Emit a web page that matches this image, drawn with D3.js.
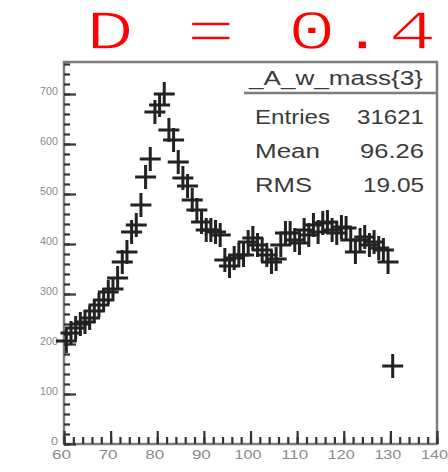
<!DOCTYPE html>
<html>
<head>
<meta charset="utf-8">
<script src="https://cdn.jsdelivr.net/npm/d3@7"></script>
<style>
  html, body { margin: 0; padding: 0; background: #fff; }
  svg { display: block; }
</style>
</head>
<body>
<svg id="chart" width="448" height="472"></svg>
<script>
// Histogram of the reconstructed W mass (1 GeV bins), drawn as "+" markers
const binCenters = [
  60.5, 61.5, 62.5, 63.5, 64.5, 65.5, 66.5, 67.5, 68.5, 69.5,
  70.5, 71.5, 72.5, 73.5, 74.5, 75.5, 76.5, 77.5, 78.5, 79.5,
  80.5, 81.5, 82.5, 83.5, 84.5, 85.5, 86.5, 87.5, 88.5, 89.5,
  90.5, 91.5, 92.5, 93.5, 94.5, 95.5, 96.5, 97.5, 98.5, 99.5,
  100.5, 101.5, 102.5, 103.5, 104.5, 105.5, 106.5, 107.5, 108.5, 109.5,
  110.5, 111.5, 112.5, 113.5, 114.5, 115.5, 116.5, 117.5, 118.5, 119.5,
  120.5, 121.5, 122.5, 123.5, 124.5, 125.5, 126.5, 127.5, 128.5, 129.5,
  130.5
];
const binCounts = [
  206, 222, 232, 240, 244, 252, 266, 278, 288, 304,
  310, 332, 364, 384, 424, 438, 478, 534, 570, 664,
  678, 700, 628, 608, 564, 532, 516, 488, 468, 444,
  428, 428, 424, 418, 368, 356, 372, 378, 378, 404,
  412, 398, 388, 378, 364, 370, 398, 422, 422, 408,
  402, 428, 418, 438, 424, 442, 444, 428, 422, 434,
  432, 408, 384, 408, 414, 398, 404, 392, 388, 364,
  156
];

const xMajorTicks = [60, 70, 80, 90, 100, 110, 120, 130, 140];
const xMinorTicks = d3.range(60, 141, 2);
const yMajorTicks = [0, 100, 200, 300, 400, 500, 600, 700];
const yMinorTicks = d3.range(0, 761, 20);

const titleText = "D = 0.4";
const statsTitle = "_A_w_mass{3}";
const statsLabels = ["Entries", "Mean", "RMS"];
const statsValues = ["31621", "96.26", "19.05"];

const svg = d3.select("#chart");

const frame = { left: 64, right: 437, top: 62, bottom: 444 };
const x = d3.scaleLinear().domain([60, 140]).range([frame.left, frame.right]);
const y = d3.scaleLinear().domain([0, 764]).range([frame.bottom, frame.top]);

// Big red title, strokes thinned with a white outline painted over the glyph edges
svg.append("text")
  .attr("transform", "translate(85.6,49) scale(1.45,1)")
  .attr("font-family", "'Liberation Mono', 'Courier New', monospace")
  .attr("font-size", 56)
  .attr("letter-spacing", 1.2)
  .attr("fill", "#ff0000")
  .attr("stroke", "#ffffff")
  .attr("stroke-width", 1.4)
  .text(titleText);

// Frame
svg.append("rect")
  .attr("x", frame.left).attr("y", frame.top)
  .attr("width", frame.right - frame.left)
  .attr("height", frame.bottom - frame.top)
  .attr("fill", "none")
  .attr("stroke", "#7d7d7d")
  .attr("stroke-width", 2.5);

// X axis: minor ticks, then major ticks with labels
const gxMinor = svg.append("g")
  .attr("transform", `translate(0,${frame.bottom})`)
  .call(d3.axisBottom(x).tickValues(xMinorTicks).tickSize(-7).tickFormat(""));
const gx = svg.append("g")
  .attr("transform", `translate(0,${frame.bottom})`)
  .call(d3.axisBottom(x).tickValues(xMajorTicks).tickSize(-13).tickPadding(6));

// Y axis
const gyMinor = svg.append("g")
  .attr("transform", `translate(${frame.left},0)`)
  .call(d3.axisLeft(y).tickValues(yMinorTicks).tickSize(-6).tickFormat(""));
const gy = svg.append("g")
  .attr("transform", `translate(${frame.left},0)`)
  .call(d3.axisLeft(y).tickValues(yMajorTicks).tickSize(-12).tickPadding(6));

[gxMinor, gx, gyMinor, gy].forEach(g => {
  g.select(".domain").remove();
  g.selectAll(".tick line").attr("stroke", "#333").attr("stroke-width", 2.2);
});

gx.selectAll(".tick text")
  .attr("font-family", "'Liberation Sans', Arial, sans-serif")
  .attr("font-size", 12)
  .attr("fill", "#8a8a8a")
  .attr("dx", -3)
  .attr("lengthAdjust", "spacingAndGlyphs")
  .attr("textLength", d => d >= 100 ? 27 : 19);

gy.selectAll(".tick text")
  .attr("font-family", "'Liberation Sans', Arial, sans-serif")
  .attr("font-size", 10)
  .attr("fill", "#8a8a8a")
  .attr("dy", "0.05em")
  .attr("lengthAdjust", "spacingAndGlyphs")
  .attr("textLength", d => d === 0 ? 7 : 18);

// Data markers
const points = binCenters.map((c, i) => ({ c, v: binCounts[i] }));
const marks = svg.append("g")
  .attr("stroke", "#222")
  .attr("stroke-width", 3)
  .attr("fill", "none");
marks.selectAll("path")
  .data(points)
  .join("path")
  .attr("d", d => {
    const px = x(d.c), py = y(d.v);
    return `M${px - 10.5},${py}H${px + 10.5}M${px},${py - 12}V${py + 12}`;
  });

// Statistics box
const stats = svg.append("g")
  .attr("font-family", "'Liberation Sans', Arial, sans-serif")
  .attr("font-size", 20)
  .attr("fill", "#3a3a3a");

stats.append("line")
  .attr("x1", 244).attr("x2", frame.right)
  .attr("y1", 93).attr("y2", 93)
  .attr("stroke", "#7d7d7d").attr("stroke-width", 2.5);

stats.append("text")
  .attr("x", 249).attr("y", 85)
  .attr("lengthAdjust", "spacingAndGlyphs")
  .attr("textLength", 174)
  .text(statsTitle);

const rowY = [124, 158, 192];
const labelLen = [75, 65, 57];
const valueLen = [67, 64, 61];
statsLabels.forEach((lab, i) => {
  stats.append("text")
    .attr("x", 255).attr("y", rowY[i])
    .attr("lengthAdjust", "spacingAndGlyphs")
    .attr("textLength", labelLen[i])
    .text(lab);
  stats.append("text")
    .attr("x", 424).attr("y", rowY[i])
    .attr("text-anchor", "end")
    .attr("lengthAdjust", "spacingAndGlyphs")
    .attr("textLength", valueLen[i])
    .text(statsValues[i]);
});
</script>
</body>
</html>
